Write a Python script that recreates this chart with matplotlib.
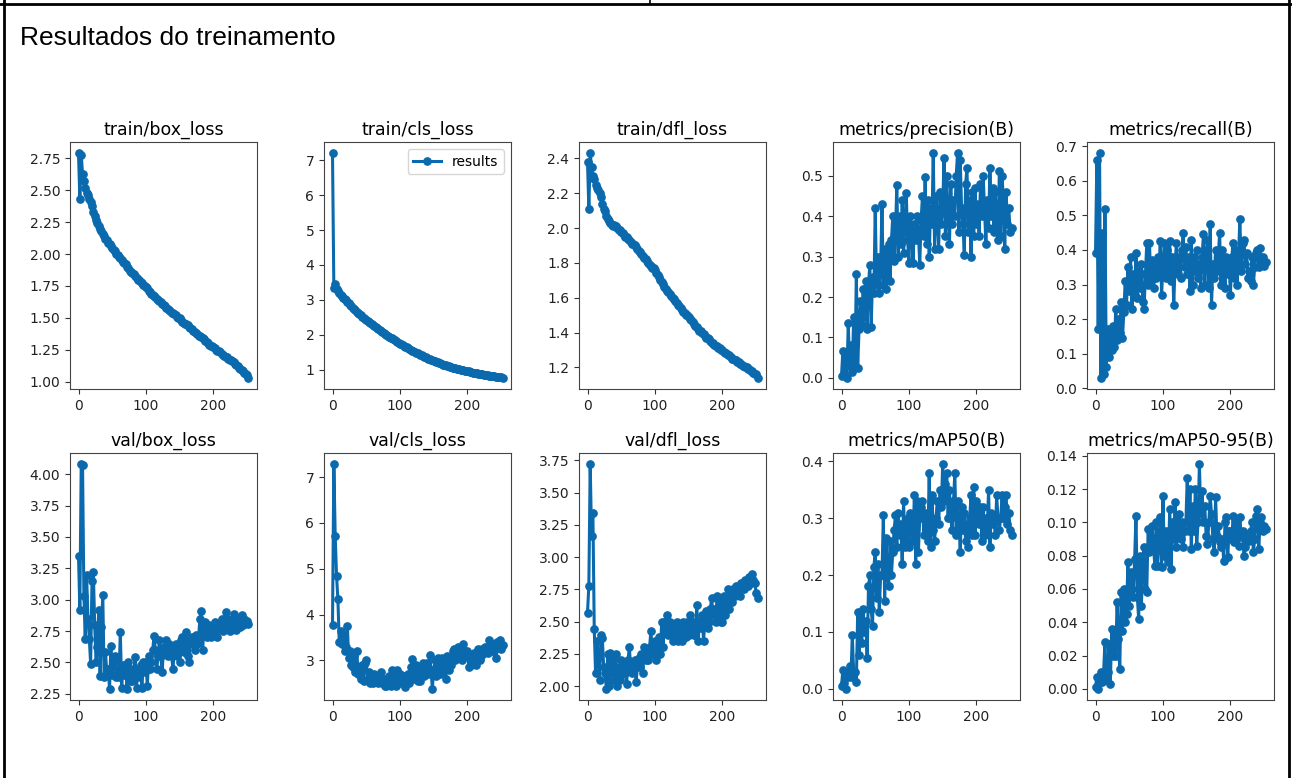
import matplotlib.pyplot as plt
from matplotlib.lines import Line2D

# epochs sampled every 2
epochs = list(range(0, 253, 2))

titles = ['train/box_loss', 'train/cls_loss', 'train/dfl_loss', 'metrics/precision(B)', 'metrics/recall(B)',
          'val/box_loss', 'val/cls_loss', 'val/dfl_loss', 'metrics/mAP50(B)', 'metrics/mAP50-95(B)']

train_box = [2.79, 2.43, 2.78, 2.63, 2.57, 2.52, 2.48, 2.46, 2.43, 2.41,
             2.38, 2.33, 2.30, 2.27, 2.24, 2.22, 2.20, 2.18, 2.16, 2.14,
             2.12, 2.11, 2.09, 2.08, 2.06, 2.05, 2.03, 2.02, 2.00, 1.99,
             1.98, 1.97, 1.95, 1.94, 1.93, 1.92, 1.90, 1.89, 1.87, 1.86,
             1.85, 1.84, 1.83, 1.81, 1.80, 1.80, 1.78, 1.77, 1.76, 1.75,
             1.74, 1.73, 1.71, 1.70, 1.69, 1.68, 1.67, 1.66, 1.65, 1.64,
             1.63, 1.62, 1.61, 1.60, 1.59, 1.58, 1.57, 1.56, 1.55, 1.54,
             1.54, 1.53, 1.52, 1.51, 1.50, 1.50, 1.48, 1.47, 1.46, 1.45,
             1.45, 1.44, 1.43, 1.42, 1.41, 1.40, 1.39, 1.38, 1.37, 1.36,
             1.36, 1.35, 1.34, 1.33, 1.32, 1.31, 1.30, 1.29, 1.28, 1.28,
             1.27, 1.26, 1.25, 1.24, 1.24, 1.23, 1.22, 1.21, 1.20, 1.19,
             1.19, 1.18, 1.17, 1.17, 1.16, 1.15, 1.14, 1.13, 1.12, 1.11,
             1.10, 1.09, 1.08, 1.07, 1.06, 1.05, 1.03]

train_cls = [7.20, 3.35, 3.45, 3.30, 3.25, 3.20, 3.15, 3.10, 3.05, 3.02,
             3.00, 2.95, 2.90, 2.86, 2.82, 2.78, 2.74, 2.70, 2.66, 2.63,
             2.60, 2.56, 2.52, 2.49, 2.46, 2.42, 2.40, 2.37, 2.34, 2.31,
             2.28, 2.26, 2.23, 2.20, 2.18, 2.15, 2.12, 2.09, 2.06, 2.03,
             2.00, 1.98, 1.95, 1.92, 1.90, 1.87, 1.85, 1.82, 1.80, 1.78,
             1.75, 1.73, 1.71, 1.68, 1.66, 1.64, 1.62, 1.59, 1.57, 1.55,
             1.53, 1.51, 1.49, 1.47, 1.45, 1.43, 1.41, 1.39, 1.37, 1.36,
             1.34, 1.32, 1.31, 1.29, 1.27, 1.26, 1.24, 1.22, 1.21, 1.19,
             1.18, 1.17, 1.15, 1.14, 1.13, 1.11, 1.10, 1.09, 1.07, 1.06,
             1.05, 1.04, 1.03, 1.02, 1.01, 1.00, 0.99, 0.98, 0.97, 0.96,
             0.96, 0.95, 0.94, 0.93, 0.92, 0.92, 0.91, 0.90, 0.89, 0.88,
             0.88, 0.87, 0.86, 0.85, 0.85, 0.84, 0.83, 0.83, 0.82, 0.81,
             0.81, 0.80, 0.80, 0.79, 0.78, 0.78, 0.77]

train_dfl = [2.38, 2.11, 2.43, 2.35, 2.30, 2.28, 2.25, 2.23, 2.22, 2.20,
             2.18, 2.14, 2.11, 2.10, 2.07, 2.05, 2.04, 2.03, 2.02, 2.01,
             2.02, 2.01, 2.00, 1.99, 1.99, 1.98, 1.97, 1.96, 1.95, 1.95,
             1.94, 1.93, 1.92, 1.91, 1.91, 1.90, 1.89, 1.88, 1.87, 1.86,
             1.85, 1.84, 1.83, 1.82, 1.81, 1.80, 1.79, 1.78, 1.77, 1.77,
             1.76, 1.74, 1.73, 1.72, 1.70, 1.69, 1.68, 1.66, 1.65, 1.64,
             1.63, 1.62, 1.61, 1.60, 1.59, 1.58, 1.57, 1.56, 1.55, 1.54,
             1.53, 1.52, 1.51, 1.50, 1.50, 1.49, 1.48, 1.47, 1.46, 1.45,
             1.44, 1.43, 1.42, 1.41, 1.41, 1.40, 1.39, 1.38, 1.37, 1.37,
             1.36, 1.35, 1.34, 1.34, 1.33, 1.32, 1.32, 1.31, 1.31, 1.30,
             1.30, 1.29, 1.28, 1.28, 1.27, 1.27, 1.26, 1.25, 1.25, 1.24,
             1.24, 1.23, 1.23, 1.22, 1.22, 1.21, 1.21, 1.20, 1.20, 1.19,
             1.19, 1.18, 1.18, 1.17, 1.16, 1.16, 1.14]

precision = [0.005, 0.066, 0.010, 0.050, 0.000, 0.135, 0.030, 0.080, 0.015, 0.150,
             0.030, 0.258, 0.025, 0.120, 0.190, 0.130, 0.220, 0.150, 0.240, 0.120,
             0.230, 0.280, 0.125, 0.250, 0.210, 0.420, 0.230, 0.300, 0.210, 0.270,
             0.430, 0.230, 0.320, 0.220, 0.290, 0.330, 0.240, 0.340, 0.400, 0.290,
             0.360, 0.478, 0.300, 0.400, 0.330, 0.440, 0.310, 0.380, 0.458, 0.340,
             0.285, 0.400, 0.370, 0.285, 0.380, 0.340, 0.400, 0.360, 0.280, 0.390,
             0.450, 0.350, 0.497, 0.330, 0.440, 0.300, 0.420, 0.380, 0.556, 0.320,
             0.450, 0.400, 0.320, 0.460, 0.380, 0.420, 0.545, 0.350, 0.500, 0.400,
             0.330, 0.480, 0.380, 0.440, 0.400, 0.500, 0.556, 0.360, 0.540, 0.420,
             0.380, 0.305, 0.480, 0.520, 0.360, 0.440, 0.300, 0.460, 0.350, 0.470,
             0.380, 0.430, 0.350, 0.480, 0.400, 0.500, 0.420, 0.330, 0.440, 0.370,
             0.520, 0.400, 0.470, 0.360, 0.460, 0.380, 0.340, 0.513, 0.350, 0.500,
             0.440, 0.320, 0.460, 0.380, 0.420, 0.360, 0.370]

recall = [0.390, 0.660, 0.170, 0.680, 0.030, 0.450, 0.040, 0.520, 0.060, 0.170,
          0.090, 0.150, 0.110, 0.180, 0.120, 0.230, 0.140, 0.200, 0.160, 0.250,
          0.145, 0.220, 0.310, 0.240, 0.350, 0.280, 0.380, 0.230, 0.330, 0.270,
          0.390, 0.260, 0.340, 0.290, 0.360, 0.250, 0.230, 0.330, 0.420, 0.300,
          0.420, 0.310, 0.370, 0.290, 0.350, 0.320, 0.380, 0.330, 0.425, 0.270,
          0.360, 0.420, 0.320, 0.400, 0.340, 0.425, 0.310, 0.380, 0.240, 0.360,
          0.420, 0.330, 0.380, 0.320, 0.400, 0.450, 0.350, 0.410, 0.330, 0.380,
          0.280, 0.430, 0.300, 0.380, 0.340, 0.400, 0.320, 0.360, 0.290, 0.380,
          0.445, 0.300, 0.380, 0.430, 0.290, 0.475, 0.240, 0.360, 0.320, 0.400,
          0.340, 0.380, 0.450, 0.300, 0.400, 0.350, 0.290, 0.380, 0.330, 0.360,
          0.270, 0.380, 0.420, 0.320, 0.400, 0.300, 0.380, 0.490, 0.340, 0.420,
          0.430, 0.360, 0.390, 0.320, 0.340, 0.310, 0.380, 0.300, 0.350, 0.390,
          0.400, 0.350, 0.405, 0.370, 0.380, 0.355, 0.365]

val_box = [3.350, 2.920, 4.080, 4.070, 3.030, 2.690, 3.200, 2.850, 2.690, 2.490,
           3.150, 3.220, 2.800, 2.500, 2.620, 2.920, 2.390, 2.780, 3.040, 2.380,
           2.580, 2.420, 2.450, 2.290, 2.630, 2.400, 2.500, 2.550, 2.380, 2.450,
           2.380, 2.740, 2.300, 2.480, 2.400, 2.480, 2.290, 2.500, 2.350, 2.450,
           2.350, 2.420, 2.540, 2.300, 2.450, 2.380, 2.480, 2.300, 2.500, 2.420,
           2.500, 2.310, 2.550, 2.450, 2.500, 2.600, 2.710, 2.600, 2.450, 2.550,
           2.680, 2.550, 2.420, 2.620, 2.600, 2.680, 2.550, 2.650, 2.580, 2.550,
           2.450, 2.600, 2.650, 2.550, 2.620, 2.500, 2.680, 2.700, 2.580, 2.620,
           2.740, 2.550, 2.500, 2.680, 2.700, 2.650, 2.600, 2.720, 2.650, 2.700,
           2.850, 2.910, 2.600, 2.780, 2.820, 2.700, 2.760, 2.800, 2.700, 2.780,
           2.750, 2.820, 2.760, 2.700, 2.800, 2.780, 2.850, 2.750, 2.820, 2.900,
           2.800, 2.850, 2.750, 2.780, 2.820, 2.890, 2.800, 2.760, 2.830, 2.850,
           2.780, 2.880, 2.800, 2.850, 2.820, 2.830, 2.810]

val_cls = [3.780, 7.280, 5.720, 4.850, 4.330, 3.400, 3.650, 3.350, 3.550, 3.200,
           3.300, 3.750, 3.050, 3.200, 2.900, 2.850, 3.100, 2.750, 3.200, 2.700,
           2.800, 2.600, 2.900, 2.550, 2.950, 3.000, 2.600, 2.750, 2.500, 2.650,
           2.500, 2.700, 2.550, 2.650, 2.500, 2.600, 2.750, 2.500, 2.600, 2.450,
           2.450, 2.550, 2.650, 2.450, 2.800, 2.500, 2.650, 2.450, 2.800, 2.500,
           2.700, 2.550, 2.500, 2.650, 2.420, 2.550, 2.700, 2.500, 2.850, 3.020,
           2.600, 2.750, 2.900, 2.550, 2.800, 2.550, 2.700, 2.950, 2.650, 2.800,
           2.950, 2.700, 3.120, 2.800, 2.380, 2.800, 3.000, 2.650, 3.050, 2.900,
           2.700, 3.050, 2.850, 3.000, 2.600, 3.100, 2.800, 3.000, 2.900, 3.200,
           3.250, 3.000, 3.100, 3.300, 3.150, 3.300, 3.000, 3.350, 3.200, 3.100,
           3.200, 2.850, 3.050, 2.900, 3.050, 3.150, 2.900, 3.100, 3.250, 3.000,
           3.100, 3.250, 3.150, 3.300, 3.200, 3.150, 3.450, 3.250, 3.350, 3.200,
           3.200, 3.050, 3.400, 3.300, 3.450, 3.250, 3.330]

val_dfl = [2.570, 2.780, 3.720, 3.160, 3.340, 2.440, 2.100, 2.350, 2.220, 2.050,
           2.400, 2.370, 2.150, 2.100, 1.980, 2.250, 2.000, 2.260, 2.100, 2.200,
           2.050, 2.250, 2.000, 2.150, 2.050, 2.200, 2.100, 2.180, 2.100, 2.020,
           2.200, 2.300, 2.150, 2.100, 2.180, 2.200, 2.030, 2.150, 2.220, 2.150,
           2.250, 2.100, 2.300, 2.200, 2.280, 2.200, 2.300, 2.430, 2.250, 2.320,
           2.350, 2.200, 2.300, 2.380, 2.250, 2.500, 2.300, 2.500, 2.420, 2.550,
           2.400, 2.500, 2.450, 2.350, 2.450, 2.400, 2.500, 2.350, 2.450, 2.400,
           2.350, 2.500, 2.450, 2.380, 2.500, 2.400, 2.550, 2.450, 2.500, 2.400,
           2.400, 2.630, 2.350, 2.500, 2.450, 2.550, 2.350, 2.500, 2.580, 2.450,
           2.500, 2.600, 2.680, 2.550, 2.600, 2.500, 2.700, 2.550, 2.650, 2.500,
           2.500, 2.700, 2.550, 2.650, 2.750, 2.600, 2.700, 2.650, 2.750, 2.700,
           2.780, 2.720, 2.750, 2.700, 2.800, 2.780, 2.750, 2.820, 2.800, 2.780,
           2.850, 2.800, 2.870, 2.820, 2.800, 2.720, 2.680]

map50 = [0.005, 0.033, 0.010, 0.000, 0.030, 0.020, 0.040, 0.020, 0.095, 0.030,
         0.030, 0.012, 0.135, 0.060, 0.130, 0.080, 0.140, 0.100, 0.120, 0.055,
         0.180, 0.200, 0.140, 0.110, 0.215, 0.240, 0.160, 0.220, 0.135, 0.200,
         0.200, 0.305, 0.155, 0.265, 0.200, 0.180, 0.260, 0.200, 0.240, 0.280,
         0.305, 0.250, 0.310, 0.270, 0.290, 0.220, 0.330, 0.250, 0.280, 0.300,
         0.250, 0.310, 0.280, 0.260, 0.340, 0.220, 0.330, 0.240, 0.300, 0.320,
         0.330, 0.270, 0.310, 0.290, 0.260, 0.380, 0.250, 0.340, 0.280, 0.260,
         0.300, 0.330, 0.290, 0.350, 0.320, 0.395, 0.330, 0.360, 0.380, 0.300,
         0.350, 0.300, 0.280, 0.330, 0.380, 0.270, 0.330, 0.300, 0.240, 0.320,
         0.280, 0.310, 0.260, 0.290, 0.250, 0.300, 0.340, 0.270, 0.355, 0.270,
         0.330, 0.300, 0.290, 0.320, 0.260, 0.320, 0.270, 0.300, 0.280, 0.350,
         0.250, 0.310, 0.290, 0.300, 0.270, 0.340, 0.300, 0.280, 0.300, 0.340,
         0.300, 0.320, 0.340, 0.290, 0.310, 0.280, 0.270]

map50_95 = [0.001, 0.007, 0.000, 0.004, 0.010, 0.004, 0.010, 0.028, 0.005, 0.010,
            0.027, 0.003, 0.036, 0.020, 0.034, 0.020, 0.052, 0.030, 0.012, 0.058,
            0.035, 0.060, 0.040, 0.045, 0.076, 0.050, 0.070, 0.060, 0.055, 0.078,
            0.104, 0.055, 0.042, 0.080, 0.050, 0.072, 0.085, 0.060, 0.058, 0.096,
            0.082, 0.090, 0.098, 0.085, 0.074, 0.100, 0.074, 0.090, 0.103, 0.073,
            0.116, 0.080, 0.095, 0.085, 0.076, 0.108, 0.072, 0.100, 0.090, 0.112,
            0.085, 0.095, 0.105, 0.090, 0.100, 0.085, 0.095, 0.100, 0.127, 0.095,
            0.120, 0.084, 0.110, 0.095, 0.120, 0.086, 0.100, 0.135, 0.105, 0.119,
            0.100, 0.110, 0.092, 0.087, 0.100, 0.116, 0.105, 0.090, 0.082, 0.115,
            0.092, 0.098, 0.088, 0.085, 0.090, 0.077, 0.100, 0.103, 0.079, 0.095,
            0.095, 0.090, 0.104, 0.088, 0.100, 0.092, 0.086, 0.103, 0.091, 0.095,
            0.080, 0.085, 0.090, 0.093, 0.089, 0.095, 0.100, 0.082, 0.090, 0.104,
            0.108, 0.084, 0.100, 0.103, 0.095, 0.098, 0.096]

series = [train_box, train_cls, train_dfl, precision, recall,
          val_box, val_cls, val_dfl, map50, map50_95]

W, H = 1292, 778
fig = plt.figure(figsize=(W / 100, H / 100), dpi=100)
color = '#0a6aad'

lefts = [70, 324, 579, 833, 1087]
tops = [142, 453]
aw, ah = 187, 247

for i, (name, vals) in enumerate(zip(titles, series)):
    r, c = divmod(i, 5)
    ax = fig.add_axes([lefts[c] / W, 1 - (tops[r] + ah) / H, aw / W, ah / H])
    ax.plot(epochs, vals, marker='.', color=color, linewidth=2.2, markersize=10.5, label='results')
    ax.set_title(name, fontsize=12.5, pad=5)
    ax.tick_params(labelsize=10, color='#333333', labelcolor='#222222')
    for s in ax.spines.values():
        s.set_color('#444444')
    if i == 1:
        ax.legend(loc='upper right', fontsize=10)

# document frame around the picture
frame = dict(color='black', linewidth=2, transform=fig.transFigure)
fig.add_artist(Line2D([4 / W, 4 / W], [0, 1], **frame))
fig.add_artist(Line2D([1289 / W, 1289 / W], [0, 1], **frame))
fig.add_artist(Line2D([0, 1], [1 - 4 / H, 1 - 4 / H], **frame))
fig.add_artist(Line2D([650 / W, 650 / W], [1 - 4 / H, 1], color='black', linewidth=1.2, transform=fig.transFigure))

fig.text(20 / W, 1 - 38 / H, 'Resultados do treinamento', fontsize=19, family='Liberation Sans',
         va='center', ha='left')

fig.savefig('out.png', dpi=100)
